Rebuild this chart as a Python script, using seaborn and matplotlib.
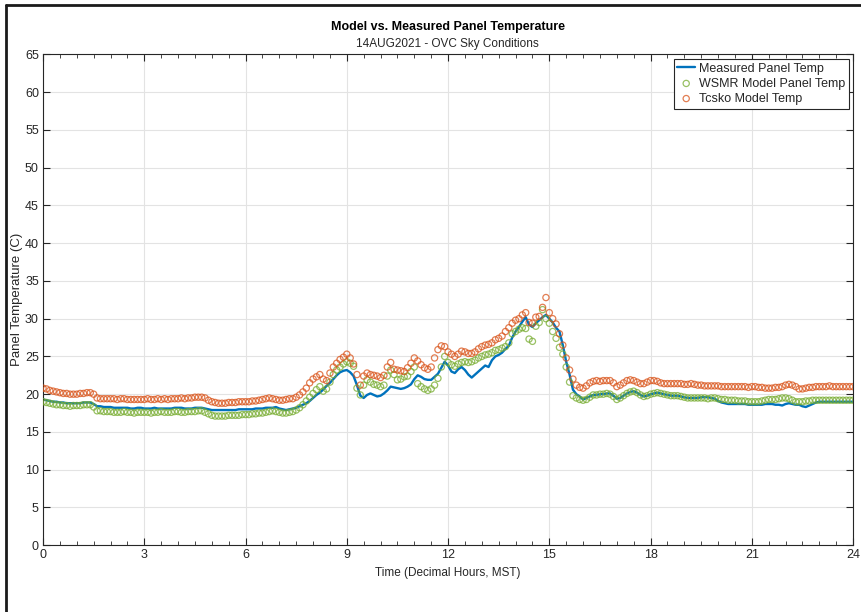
import numpy as np
import pandas as pd
import matplotlib
matplotlib.use("Agg")
import matplotlib.pyplot as plt
import seaborn as sns
from matplotlib.ticker import MultipleLocator
from matplotlib.lines import Line2D

# ---------------- data (0.1 h steps, 0..24 h) ----------------
hours = np.round(np.arange(0, 24.0001, 0.1), 1)

measured = [
    19.3, 19.2, 19.1, 19.0, 19.0, 18.9, 18.9, 18.8, 18.8, 18.8,
    18.8, 18.8, 18.9, 18.9, 18.9, 18.7, 18.4, 18.4, 18.3, 18.3,
    18.3, 18.2, 18.2, 18.2, 18.2, 18.2, 18.1, 18.1, 18.2, 18.2,
    18.1, 18.1, 18.1, 18.2, 18.1, 18.1, 18.1, 18.1, 18.1, 18.2,
    18.2, 18.2, 18.1, 18.1, 18.1, 18.2, 18.2, 18.2, 18.1, 18.0,
    17.9, 17.9, 17.9, 17.9, 17.9, 17.9, 17.9, 17.9, 18.0, 18.0,
    18.0, 18.0, 18.0, 18.1, 18.1, 18.1, 18.2, 18.2, 18.2, 18.3,
    18.1, 18.0, 17.9, 18.0, 18.1, 18.2, 18.4, 18.6, 18.8, 19.1,
    19.5, 19.9, 20.2, 20.6, 21.1, 21.5, 22.0, 22.5, 22.9, 23.1,
    23.2, 22.9, 22.4, 21.2, 19.8, 19.5, 19.9, 20.1, 19.9, 19.7,
    19.8, 20.1, 20.5, 21.0, 20.9, 20.8, 20.7, 20.8, 21.0, 21.3,
    22.0, 22.5, 22.3, 22.0, 21.9, 21.9, 22.3, 22.7, 23.5, 24.3,
    23.8, 23.0, 22.8, 23.3, 23.6, 23.2, 22.6, 22.2, 22.6, 23.0,
    23.4, 23.8, 23.6, 24.5, 25.0, 25.2, 25.5, 26.0, 26.4, 27.5,
    28.3, 28.9, 29.6, 30.2, 29.2, 28.9, 29.4, 29.8, 30.2, 30.5,
    30.0, 29.5, 28.8, 28.3, 26.5, 24.3, 22.6, 20.6, 20.0, 19.7,
    19.3, 19.5, 19.7, 19.9, 19.9, 20.0, 20.0, 20.1, 20.1, 19.8,
    19.4, 19.5, 19.8, 20.1, 20.3, 20.4, 20.2, 19.9, 19.7, 19.8,
    20.0, 20.1, 20.2, 20.1, 20.0, 19.9, 19.8, 19.8, 19.8, 19.7,
    19.6, 19.5, 19.5, 19.5, 19.5, 19.6, 19.6, 19.6, 19.5, 19.4,
    19.1, 18.9, 18.8, 18.7, 18.7, 18.7, 18.7, 18.7, 18.7, 18.6,
    18.6, 18.6, 18.6, 18.6, 18.7, 18.7, 18.7, 18.6, 18.6, 18.5,
    18.7, 18.8, 18.7, 18.6, 18.6, 18.4, 18.3, 18.5, 18.7, 18.9,
    19.0, 19.0, 19.0, 19.0, 19.0, 19.0, 19.0, 19.0, 19.0, 19.0,
    19.0,
]

wsmr_model = [
    19.0, 18.9, 18.8, 18.7, 18.6, 18.6, 18.5, 18.5, 18.4, 18.5,
    18.5, 18.5, 18.6, 18.6, 18.6, 18.3, 17.8, 17.8, 17.7, 17.7,
    17.7, 17.6, 17.6, 17.6, 17.7, 17.6, 17.6, 17.5, 17.6, 17.6,
    17.6, 17.6, 17.5, 17.6, 17.6, 17.7, 17.6, 17.6, 17.6, 17.7,
    17.7, 17.6, 17.6, 17.7, 17.7, 17.7, 17.8, 17.8, 17.6, 17.4,
    17.2, 17.1, 17.1, 17.1, 17.1, 17.2, 17.2, 17.2, 17.2, 17.3,
    17.3, 17.3, 17.4, 17.4, 17.5, 17.5, 17.6, 17.7, 17.8, 17.7,
    17.6, 17.5, 17.5, 17.6, 17.7, 17.9, 18.2, 18.6, 19.1, 19.6,
    20.1, 20.6, 21.0, 20.4, 20.7, 21.6, 22.6, 23.2, 23.6, 24.0,
    24.3, 24.1, 23.7, 20.8, 19.9, 21.2, 21.9, 21.6, 21.3, 21.2,
    21.0, 21.2, 22.4, 23.2, 22.6, 21.9, 22.0, 22.3, 22.4, 23.0,
    23.6, 21.4, 21.0, 20.7, 20.5, 20.7, 21.2, 22.1, 23.6, 25.0,
    24.2, 23.9, 23.7, 24.0, 24.2, 24.3, 24.2, 24.3, 24.5, 24.8,
    25.0, 25.2, 25.3, 25.5, 25.8, 25.9, 26.1, 26.3, 26.8, 28.0,
    28.3, 28.6, 28.8, 28.7, 27.3, 27.0, 29.0, 29.5, 31.2, 30.0,
    29.4, 28.3, 27.4, 26.2, 25.3, 23.6, 21.6, 19.8, 19.5, 19.3,
    19.2, 19.3, 19.6, 19.9, 19.9, 20.0, 20.0, 20.1, 20.0, 19.7,
    19.3, 19.5, 19.8, 20.1, 20.3, 20.4, 20.2, 19.9, 19.7, 19.8,
    20.0, 20.1, 20.2, 20.1, 20.0, 19.9, 19.8, 19.8, 19.8, 19.7,
    19.6, 19.5, 19.5, 19.5, 19.5, 19.5, 19.5, 19.4, 19.5, 19.5,
    19.4, 19.3, 19.3, 19.2, 19.2, 19.2, 19.1, 19.1, 19.1, 19.0,
    19.0, 19.0, 19.0, 19.1, 19.2, 19.3, 19.3, 19.3, 19.4, 19.5,
    19.5, 19.4, 19.2, 19.0, 19.0, 19.0, 19.1, 19.1, 19.2, 19.2,
    19.2, 19.2, 19.2, 19.2, 19.2, 19.2, 19.2, 19.2, 19.2, 19.2,
    19.2,
]

tcsko_model = [
    20.8, 20.7, 20.5, 20.4, 20.3, 20.2, 20.1, 20.1, 20.0, 20.0,
    20.0, 20.1, 20.1, 20.2, 20.2, 20.0, 19.5, 19.4, 19.4, 19.4,
    19.4, 19.4, 19.3, 19.4, 19.4, 19.3, 19.3, 19.3, 19.3, 19.3,
    19.3, 19.4, 19.3, 19.3, 19.4, 19.3, 19.4, 19.3, 19.4, 19.4,
    19.4, 19.5, 19.4, 19.5, 19.5, 19.6, 19.6, 19.6, 19.5, 19.2,
    19.0, 18.9, 18.8, 18.8, 18.8, 18.9, 18.9, 18.9, 19.0, 19.0,
    19.0, 19.0, 19.1, 19.1, 19.2, 19.3, 19.4, 19.5, 19.4, 19.3,
    19.2, 19.2, 19.3, 19.4, 19.4, 19.6, 19.9, 20.3, 20.8, 21.5,
    22.0, 22.3, 22.6, 22.0, 21.8, 22.8, 23.6, 24.1, 24.6, 24.9,
    25.3, 24.8, 24.0, 22.6, 21.2, 22.4, 22.8, 22.6, 22.5, 22.4,
    22.2, 22.5, 23.6, 24.2, 23.3, 23.2, 23.1, 23.0, 23.5, 24.1,
    24.8, 24.4, 23.9, 23.5, 23.3, 23.6, 24.8, 25.9, 26.4, 26.3,
    25.6, 25.3, 25.0, 25.3, 25.7, 25.6, 25.4, 25.4, 25.6, 26.0,
    26.3, 26.5, 26.6, 26.8, 27.2, 27.4, 27.7, 28.3, 28.8, 29.4,
    29.8, 30.0, 30.5, 30.8, 29.5, 29.4, 30.2, 30.3, 31.5, 32.8,
    30.8, 30.0, 29.3, 28.0, 26.5, 24.8, 23.2, 22.0, 21.2, 20.9,
    20.8, 21.1, 21.5, 21.7, 21.8, 21.7, 21.8, 21.8, 21.8, 21.5,
    21.0, 21.2, 21.5, 21.8, 21.9, 21.8, 21.6, 21.4, 21.4, 21.6,
    21.8, 21.8, 21.7, 21.5, 21.4, 21.4, 21.4, 21.4, 21.4, 21.4,
    21.3, 21.3, 21.4, 21.3, 21.2, 21.2, 21.1, 21.1, 21.1, 21.1,
    21.1, 21.0, 21.0, 21.0, 21.0, 21.0, 21.0, 21.0, 21.0, 20.9,
    21.0, 21.0, 20.9, 20.9, 20.8, 20.8, 20.8, 20.9, 20.9, 21.0,
    21.2, 21.3, 21.2, 21.0, 20.7, 20.7, 20.8, 20.9, 20.9, 21.0,
    21.0, 21.0, 21.0, 21.1, 21.0, 21.0, 21.0, 21.0, 21.0, 21.0,
    21.0,
]

x_ticks = [0, 3, 6, 9, 12, 15, 18, 21, 24]
y_ticks = list(range(0, 66, 5))

series_labels = ["Measured Panel Temp", "WSMR Model Panel Temp", "Tcsko Model Temp"]
title = "Model vs. Measured Panel Temperature"
subtitle = "14AUG2021 - OVC Sky Conditions"
xlabel = "Time (Decimal Hours, MST)"
ylabel = "Panel Temperature (C)"

df = pd.DataFrame({"t": hours, "meas": measured, "wsmr": wsmr_model, "tcsko": tcsko_model})

# ---------------- style ----------------
sns.set_theme(style="whitegrid")
plt.rcParams["font.family"] = ["Liberation Sans", "DejaVu Sans"]

BLUE = "#0072BD"
GREEN = "#77AC30"
ORANGE = "#D95319"
DARK = "#262626"

fig = plt.figure(figsize=(8.61, 6.12), dpi=100)
fig.patch.set_facecolor("white")
ax = fig.add_axes([0.05, 0.1092, 0.9408, 0.8018])
ax.set_facecolor("white")

sns.lineplot(data=df, x="t", y="meas", ax=ax, color=BLUE, lw=1.7,
             estimator=None, label=series_labels[0], zorder=2)
sns.scatterplot(data=df, x="t", y="wsmr", ax=ax, marker="o", s=20,
                facecolor="none", edgecolor=GREEN, linewidth=0.9, alpha=0.75,
                label=series_labels[1], zorder=3)
sns.scatterplot(data=df, x="t", y="tcsko", ax=ax, marker="o", s=20,
                facecolor="none", edgecolor=ORANGE, linewidth=0.9, alpha=0.75,
                label=series_labels[2], zorder=3)

ax.set_xlim(0, 24)
ax.set_ylim(0, 65)
ax.set_xticks(x_ticks)
ax.set_yticks(y_ticks)
ax.xaxis.set_minor_locator(MultipleLocator(0.5))

ax.grid(True, which="major", color="#e3e3e3", lw=0.8)
ax.grid(False, which="minor")
ax.tick_params(which="major", direction="in", length=5, width=0.8,
               bottom=True, left=True, top=True, right=True,
               colors=DARK, labelsize=9, pad=3)
ax.tick_params(which="minor", direction="in", length=3, width=0.6,
               bottom=True, top=True, left=False, right=False, colors=DARK)
for sp in ax.spines.values():
    sp.set_visible(True)
    sp.set_color(DARK)
    sp.set_linewidth(0.8)

ax.set_xlabel(xlabel, fontsize=8.5, color=DARK)
ax.set_ylabel(ylabel, fontsize=9.5, color=DARK)
ax.xaxis.set_label_coords(0.5, -0.045)
ax.yaxis.set_label_coords(-0.025, 0.5)

fig.text(0.52, 1 - 27 / 612, title, ha="center", va="center",
         fontsize=9, fontweight="bold", color="black")
fig.text(0.52, 1 - 44 / 612, subtitle, ha="center", va="center",
         fontsize=8.5, color=DARK)

leg = ax.legend(loc="upper right", bbox_to_anchor=(1.0, 1.0), borderaxespad=0.35,
                frameon=True, fancybox=False, fontsize=9, handlelength=1.4,
                handletextpad=0.3, borderpad=0.3, labelspacing=0.25)
leg.get_frame().set_edgecolor(DARK)
leg.get_frame().set_linewidth(0.8)
leg.get_frame().set_alpha(1)

# screenshot border (left and top)
fig.add_artist(Line2D([0.0065, 0.0065], [0.0, 1 - 5 / 612], transform=fig.transFigure,
                      color="#1a1a1a", lw=2))
fig.add_artist(Line2D([0.0065, 1.0], [1 - 5 / 612, 1 - 5 / 612], transform=fig.transFigure,
                      color="#1a1a1a", lw=2))

fig.savefig("out.png", dpi=100, facecolor="white")
